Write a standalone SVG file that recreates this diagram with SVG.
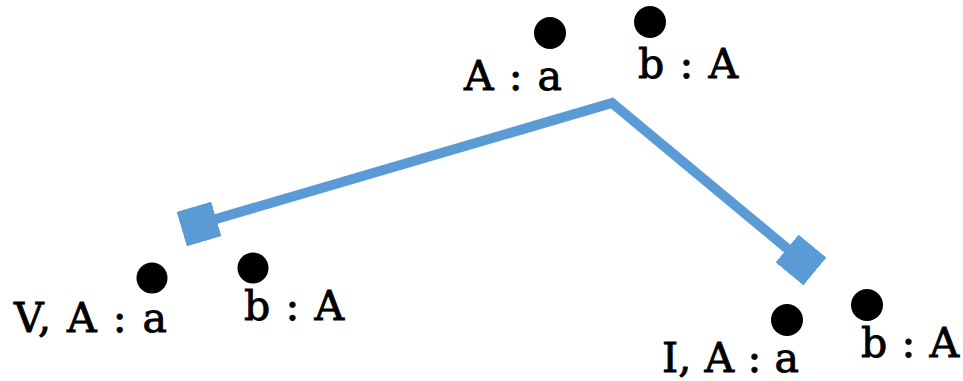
<svg xmlns="http://www.w3.org/2000/svg" width="963" height="381" viewBox="0 0 963 381">
<style>
.lbl{font-family:"DejaVu Serif","Liberation Serif",serif;font-size:41px;fill:#000;stroke:#000;stroke-width:0.9px}
.dot{fill:#000}
.conn{fill:none;stroke:#5B9BD5;stroke-width:10;stroke-linejoin:miter}
</style>
<defs>
<marker id="sq" viewBox="-18 -18 36 36" markerWidth="36" markerHeight="36" markerUnits="userSpaceOnUse" orient="auto" refX="0" refY="0">
<rect x="-18" y="-18" width="36" height="36" fill="#5B9BD5"/>
</marker>
</defs>
<g id="connectors">
<polyline class="conn" points="199,224 612,103 801,260" marker-start="url(#sq)" marker-end="url(#sq)"/>
</g>
<g id="node-top-a">
<circle class="dot" cx="550" cy="33" r="16"/>
<text class="lbl" x="464" y="90" textLength="98" lengthAdjust="spacing">A : a</text>
</g>
<g id="node-top-b">
<circle class="dot" cx="650" cy="22" r="16"/>
<text class="lbl" x="638" y="78" textLength="100" lengthAdjust="spacing">b : A</text>
</g>
<g id="node-left-a">
<circle class="dot" cx="152" cy="278" r="15.5"/>
<text class="lbl" x="14" y="332" textLength="153" lengthAdjust="spacing">V, A : a</text>
</g>
<g id="node-left-b">
<circle class="dot" cx="253" cy="268" r="15.5"/>
<text class="lbl" x="244" y="320" textLength="100" lengthAdjust="spacing">b : A</text>
</g>
<g id="node-right-a">
<circle class="dot" cx="787" cy="320" r="16"/>
<text class="lbl" x="662" y="372" textLength="137" lengthAdjust="spacing">I, A : a</text>
</g>
<g id="node-right-b">
<circle class="dot" cx="867" cy="305" r="16"/>
<text class="lbl" x="861" y="357" textLength="98" lengthAdjust="spacing">b : A</text>
</g>
</svg>
